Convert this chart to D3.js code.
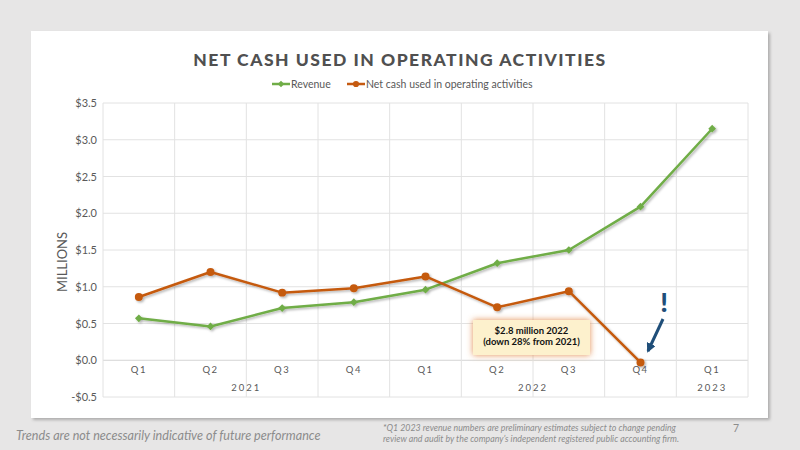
<!DOCTYPE html>
<html>
<head>
<meta charset="utf-8">
<script src="https://cdn.jsdelivr.net/npm/d3@7/dist/d3.min.js"></script>
<style>
  body { margin: 0; background: #e7e6e6; }
  svg { display: block; }
</style>
</head>
<body>
<svg id="chart"></svg>
<script>
// chart data
var quarters = ['Q1', 'Q2', 'Q3', 'Q4', 'Q1', 'Q2', 'Q3', 'Q4', 'Q1'];
var years = [{year: '2021', from: 0, to: 3}, {year: '2022', from: 4, to: 7}, {year: '2023', from: 8, to: 8}];
var revenue = [0.57, 0.46, 0.71, 0.79, 0.96, 1.32, 1.50, 2.09, 3.15];
var netCash = [0.86, 1.20, 0.92, 0.98, 1.14, 0.72, 0.94, -0.03, null];
var yTicks = [-0.5, 0, 0.5, 1.0, 1.5, 2.0, 2.5, 3.0, 3.5];
var green = '#70ad47';
var orange = '#c55a11';

var width = 800, height = 450;
var margin = {top: 103, left: 103, right: 52, bottom: 53};
var widthInner = width - margin.left - margin.right;
var heightInner = height - margin.top - margin.bottom;

var svg = d3.select('#chart')
	.attr('width', width)
	.attr('height', height);

var defs = svg.append('defs');
var sh = defs.append('filter').attr('id', 'cardshadow').attr('x', '-5%').attr('y', '-5%').attr('width', '110%').attr('height', '110%');
sh.append('feDropShadow').attr('dx', 2).attr('dy', 2).attr('stdDeviation', 1.5).attr('flood-color', '#000').attr('flood-opacity', 0.25);
var ls = defs.append('filter').attr('id', 'lineshadow').attr('x', '-10%').attr('y', '-10%').attr('width', '120%').attr('height', '120%');
ls.append('feDropShadow').attr('dx', 1.5).attr('dy', 1.5).attr('stdDeviation', 1).attr('flood-color', '#000').attr('flood-opacity', 0.3);
var glow = defs.append('filter').attr('id', 'glow').attr('x', '-20%').attr('y', '-50%').attr('width', '140%').attr('height', '200%');
glow.append('feDropShadow').attr('dx', 0).attr('dy', 0).attr('stdDeviation', 3).attr('flood-color', '#e0823c').attr('flood-opacity', 0.9);

// white card
svg.append('rect')
	.attr('x', 31).attr('y', 31)
	.attr('width', 737).attr('height', 387)
	.attr('fill', '#fff')
	.attr('filter', 'url(#cardshadow)');

// title + legend
svg.append('text')
	.attr('x', 400).attr('y', 66)
	.attr('text-anchor', 'middle')
	.attr('fill', '#505050')
	.style('font-family', 'Lato, sans-serif')
	.style('font-weight', 900)
	.style('font-size', '17.5px')
	.style('letter-spacing', '1.5px')
	.text('NET CASH USED IN OPERATING ACTIVITIES');

// rotated square reads as Excel's diamond marker
function marker(shape, size) {
	return shape === 'diamond'
		? d3.symbol().type(d3.symbolSquare).size(size)()
		: d3.symbol().type(d3.symbolCircle).size(size)();
}
function markerRot(shape) { return shape === 'diamond' ? ' rotate(45)' : ''; }

var legend = [{name: 'Revenue', color: green, shape: 'diamond', x: 272},
	{name: 'Net cash used in operating activities', color: orange, shape: 'circle', x: 347}];
var lg = svg.selectAll('.legend').data(legend).enter().append('g')
	.attr('transform', function(d) { return 'translate(' + d.x + ',84)'; });
lg.append('line').attr('x1', 0).attr('x2', 18).attr('stroke', function(d) { return d.color; }).attr('stroke-width', 2.5);
lg.append('path').attr('d', function(d) { return marker(d.shape, d.shape === 'diamond' ? 22 : 30); })
	.attr('transform', function(d) { return 'translate(9,0)' + markerRot(d.shape); })
	.attr('fill', function(d) { return d.color; });
lg.append('text').attr('x', 19).attr('dy', '0.35em')
	.attr('fill', '#595959')
	.style('font-family', 'Lato, sans-serif').style('font-size', '10.5px')
	.text(function(d) { return d.name; });

var g = svg.append('g')
	.attr('transform', 'translate(' + margin.left + ',' + margin.top + ')');

var x = d3.scaleBand()
	.range([0, widthInner])
	.domain(d3.range(quarters.length));

var y = d3.scaleLinear()
	.range([heightInner, 0])
	.domain([-0.5, 3.5]);

// gridlines
g.selectAll('.hgrid').data(yTicks).enter().append('line')
	.attr('x1', 0).attr('x2', widthInner)
	.attr('y1', function(d) { return y(d); }).attr('y2', function(d) { return y(d); })
	.attr('stroke', function(d) { return d === 0 ? '#d4d4d4' : '#e2e2e2'; })
	.attr('stroke-width', 1);
g.selectAll('.vgrid').data(d3.range(quarters.length + 1)).enter().append('line')
	.attr('x1', function(d) { return d * x.bandwidth(); }).attr('x2', function(d) { return d * x.bandwidth(); })
	.attr('y1', 0).attr('y2', heightInner)
	.attr('stroke', '#e2e2e2');

// y axis
var yAxis = d3.axisLeft(y)
	.tickValues(yTicks)
	.tickSize(0)
	.tickPadding(6)
	.tickFormat(function(d) { return (d < 0 ? '-$' : '$') + Math.abs(d).toFixed(1); });
var ya = g.append('g').call(yAxis);
ya.select('.domain').remove();
ya.selectAll('text')
	.attr('fill', '#595959')
	.style('font-family', 'Lato, sans-serif')
	.style('font-size', '11px');

svg.append('text')
	.attr('transform', 'translate(67,262) rotate(-90)')
	.attr('text-anchor', 'middle')
	.attr('fill', '#595959')
	.style('font-family', 'Lato, sans-serif')
	.style('font-size', '13px')
	.text('MILLIONS');

// x axis (two levels)
var xAxis = d3.axisBottom(x)
	.tickSize(0)
	.tickPadding(6)
	.tickFormat(function(i) { return quarters[i]; });
var xa = g.append('g').attr('transform', 'translate(0,' + y(0) + ')').call(xAxis);
xa.select('.domain').remove();
xa.selectAll('text')
	.attr('fill', '#595959')
	.style('font-family', 'Lato, sans-serif')
	.style('font-size', '9.5px')
	.style('letter-spacing', '1.5px');

g.selectAll('.year').data(years).enter().append('text')
	.attr('x', function(d) { return (x(d.from) + x(d.to) + x.bandwidth()) / 2; })
	.attr('y', y(0) + 31)
	.attr('text-anchor', 'middle')
	.attr('fill', '#595959')
	.style('font-family', 'Lato, sans-serif')
	.style('font-size', '9.5px')
	.style('letter-spacing', '2px')
	.text(function(d) { return d.year; });

// series
function cx(i) { return x(i) + x.bandwidth() / 2; }
var line = d3.line()
	.defined(function(d) { return d !== null; })
	.x(function(d, i) { return cx(i); })
	.y(function(d) { return y(d); });

var series = [{values: revenue, color: green, shape: 'diamond'},
	{values: netCash, color: orange, shape: 'circle'}];

series.forEach(function(s) {
	var sg = g.append('g').attr('filter', 'url(#lineshadow)');
	sg.append('path')
		.datum(s.values)
		.attr('fill', 'none')
		.attr('stroke', s.color)
		.attr('stroke-width', 2.5)
		.attr('stroke-linejoin', 'round')
		.attr('d', line);
	var pts = s.values.map(function(v, i) { return {v: v, i: i}; })
		.filter(function(p) { return p.v !== null; });
	sg.selectAll('.pt').data(pts).enter()
		.append('path')
		.attr('d', marker(s.shape, s.shape === 'diamond' ? 30 : 50))
		.attr('transform', function(p) {
			return 'translate(' + cx(p.i) + ',' + y(p.v) + ')' + markerRot(s.shape);
		})
		.attr('fill', s.color);
});

// annotation box
var box = svg.append('g').attr('transform', 'translate(473,320)');
box.append('rect')
	.attr('width', 117).attr('height', 35)
	.attr('fill', '#fdf1cd')
	.attr('filter', 'url(#glow)');
box.selectAll('text').data(['$2.8 million 2022', '(down 28% from 2021)']).enter().append('text')
	.attr('x', 58.5)
	.attr('y', function(d, i) { return 14 + i * 11; })
	.attr('text-anchor', 'middle')
	.attr('fill', '#111')
	.style('font-family', 'Lato, sans-serif')
	.style('font-weight', 700)
	.style('font-size', '9.5px')
	.text(function(d) { return d; });

// arrow + exclamation
defs.append('marker').attr('id', 'arrowhead')
	.attr('viewBox', '0 0 10 10').attr('refX', 8).attr('refY', 5)
	.attr('markerWidth', 3.2).attr('markerHeight', 3.2).attr('orient', 'auto')
	.append('path').attr('d', 'M0,0 L10,5 L0,10 Z').attr('fill', '#1f4e79');
svg.append('line')
	.attr('x1', 663).attr('y1', 319).attr('x2', 648).attr('y2', 351)
	.attr('stroke', '#1f4e79').attr('stroke-width', 3)
	.attr('marker-end', 'url(#arrowhead)');
svg.append('text')
	.attr('x', 664).attr('y', 312)
	.attr('text-anchor', 'middle')
	.attr('fill', '#1f4e79')
	.style('font-family', 'Lato, sans-serif')
	.style('font-weight', 900)
	.style('font-size', '27px')
	.text('!');

// footer
svg.append('text')
	.attr('x', 16).attr('y', 440)
	.attr('fill', '#8c8c8c')
	.style('font-family', 'Lato, sans-serif')
	.style('font-style', 'italic')
	.style('font-size', '12.6px')
	.text('Trends are not necessarily indicative of future performance');
svg.selectAll('.note').data(['*Q1 2023 revenue numbers are preliminary estimates subject to change pending',
	'review and audit by the company\u2019s independent registered public accounting firm.']).enter().append('text')
	.attr('x', 383)
	.attr('y', function(d, i) { return 431 + i * 11; })
	.attr('fill', '#8c8c8c')
	.style('font-family', 'Lato, sans-serif')
	.style('font-style', 'italic')
	.style('font-size', '8.8px')
	.text(function(d) { return d; });
svg.append('text')
	.attr('x', 733).attr('y', 432)
	.attr('fill', '#8c8c8c')
	.style('font-family', 'Lato, sans-serif')
	.style('font-size', '10.5px')
	.text('7');
</script>
</body>
</html>
